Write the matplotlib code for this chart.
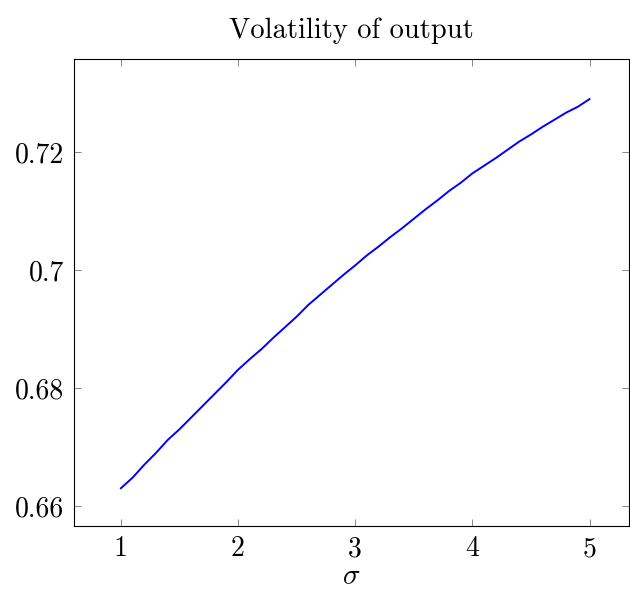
import numpy as np
import matplotlib
matplotlib.use("Agg")
import matplotlib.pyplot as plt

plt.rcParams['font.family'] = 'serif'
plt.rcParams['font.serif'] = ['cmr10', 'DejaVu Serif']
plt.rcParams['mathtext.fontset'] = 'cm'
plt.rcParams['axes.unicode_minus'] = False

# sigma grid and output volatility
sigma = [1.0, 1.1, 1.2, 1.3, 1.4, 1.5, 1.6, 1.7, 1.8, 1.9,
         2.0, 2.1, 2.2, 2.3, 2.4, 2.5, 2.6, 2.7, 2.8, 2.9,
         3.0, 3.1, 3.2, 3.3, 3.4, 3.5, 3.6, 3.7, 3.8, 3.9,
         4.0, 4.1, 4.2, 4.3, 4.4, 4.5, 4.6, 4.7, 4.8, 4.9, 5.0]
vol = [0.6630, 0.6648, 0.6670, 0.6690, 0.6712, 0.6730, 0.6750, 0.6770, 0.6790, 0.6810,
       0.6831, 0.6849, 0.6866, 0.6885, 0.6903, 0.6921, 0.6941, 0.6958, 0.6975, 0.6992,
       0.7008, 0.7025, 0.7040, 0.7056, 0.7071, 0.7087, 0.7103, 0.7118, 0.7134, 0.7148,
       0.7164, 0.7177, 0.7190, 0.7204, 0.7218, 0.7230, 0.7243, 0.7255, 0.7267, 0.7277, 0.7290]

xticks = [1, 2, 3, 4, 5]
yticks = [0.66, 0.68, 0.70, 0.72]
ylabels = ["0.66", "0.68", "0.7", "0.72"]

fig = plt.figure(figsize=(6.3, 5.9), dpi=100)
ax = fig.add_axes([0.1175, 0.1085, 0.8815, 0.7915])
ax.plot(sigma, vol, color=(0, 0, 1), lw=1.4)

ax.set_xlim(0.6, 5.34)
ax.set_ylim(0.6566, 0.7358)
ax.set_xticks(xticks)
ax.set_xticklabels([str(t) for t in xticks])
ax.set_yticks(yticks)
ax.set_yticklabels(ylabels)
ax.tick_params(direction='in', length=5, width=0.6, color='0.45',
               top=True, right=True, labelsize=20, pad=7)
for s in ax.spines.values():
    s.set_linewidth(0.8)

ax.set_xlabel(r'$\sigma$', fontsize=21, labelpad=1)
ax.set_title('Volatility of output', fontsize=20.5, pad=15)

fig.savefig("out.png", dpi=100)
